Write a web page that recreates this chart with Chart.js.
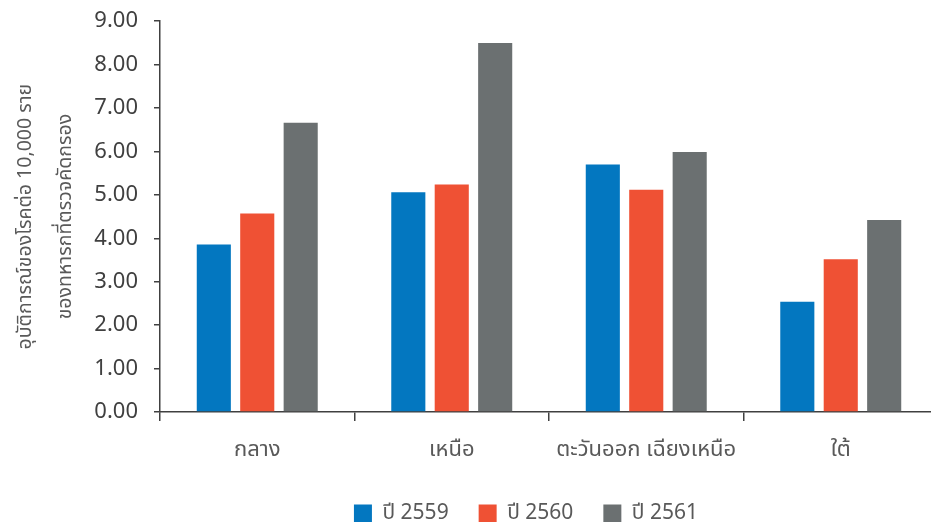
<!DOCTYPE html>
<html lang="th">
<head>
  <meta charset="UTF-8" />
  <title>อุบัติการณ์ของโรค</title>
  <script src="https://cdn.jsdelivr.net/npm/chart.js"></script>
  <style>
    html, body { margin: 0; padding: 0; background: #fff; overflow: hidden; }
    #wrap { width: 938px; height: 530px; margin-top: -8px; }
  </style>
</head>
<body>
  <div id="wrap"><canvas id="chart"></canvas></div>
  <script>
    const regions = ['กลาง', 'เหนือ', 'ตะวันออก เฉียงเหนือ', 'ใต้'];
    const y2559 = [3.86, 5.06, 5.70, 2.54];
    const y2560 = [4.57, 5.24, 5.12, 3.52];
    const y2561 = [6.66, 8.50, 5.99, 4.42];
    const yTitle = ['อุบัติการณ์ของโรคต่อ 10,000 ราย', 'ของทหารกที่ตรวจคัดกรอง'];

    const FONT = "'Noto Sans', 'Noto Sans Thai', Tahoma, sans-serif";
    const axisColor = '#404040';
    const textColor = '#595959';

    // place the legend where it sits in the original
    const legendShift = {
      id: 'legendShift',
      afterLayout(chart) {
        const lg = chart.legend;
        const h = lg.bottom - lg.top;
        lg.left -= 23;
        lg.right -= 23;
        lg.top = 481;
        lg.bottom = 481 + h;
      }
    };

    new Chart(document.getElementById('chart'), {
      type: 'bar',
      data: {
        labels: regions,
        datasets: [
          { label: 'ปี 2559', data: y2559, backgroundColor: '#0377c0' },
          { label: 'ปี 2560', data: y2560, backgroundColor: '#ef5134' },
          { label: 'ปี 2561', data: y2561, backgroundColor: '#6b7071' }
        ]
      },
      options: {
        responsive: true,
        maintainAspectRatio: false,
        animation: false,
        categoryPercentage: 0.67,
        barPercentage: 0.785,
        layout: { padding: { top: 0, right: 0, left: 0, bottom: -6 } },
        plugins: {
          tooltip: { enabled: false },
          legend: {
            position: 'bottom',
            fullSize: false,
            labels: {
              color: textColor,
              font: { family: FONT, size: 21 },
              boxWidth: 18,
              boxHeight: 18,
              padding: 30
            }
          }
        },
        scales: {
          x: {
            grid: {
              display: true,
              drawOnChartArea: false,
              offset: true,
              tickLength: 9,
              color: axisColor,
              lineWidth: 1.5
            },
            border: { color: axisColor, width: 1.5 },
            ticks: {
              color: textColor,
              font: { family: FONT, size: 22 },
              padding: 16,
              maxRotation: 0
            },
            afterFit(scale) { scale.height = 55; }
          },
          y: {
            min: 0,
            max: 9,
            ticks: {
              stepSize: 1,
              color: axisColor,
              font: { family: FONT, size: 22 },
              padding: 16,
              callback: v => v.toFixed(2)
            },
            grid: {
              display: true,
              drawOnChartArea: false,
              tickLength: 6,
              color: axisColor,
              lineWidth: 1.5
            },
            border: { color: axisColor, width: 1.5 },
            title: {
              display: true,
              text: yTitle,
              color: textColor,
              font: { family: FONT, size: 19.5, lineHeight: 2.05 },
              padding: { top: 5, bottom: 0 }
            },
            afterFit(scale) { scale.width = 160; }
          }
        }
      },
      plugins: [legendShift]
    });
  </script>
</body>
</html>
